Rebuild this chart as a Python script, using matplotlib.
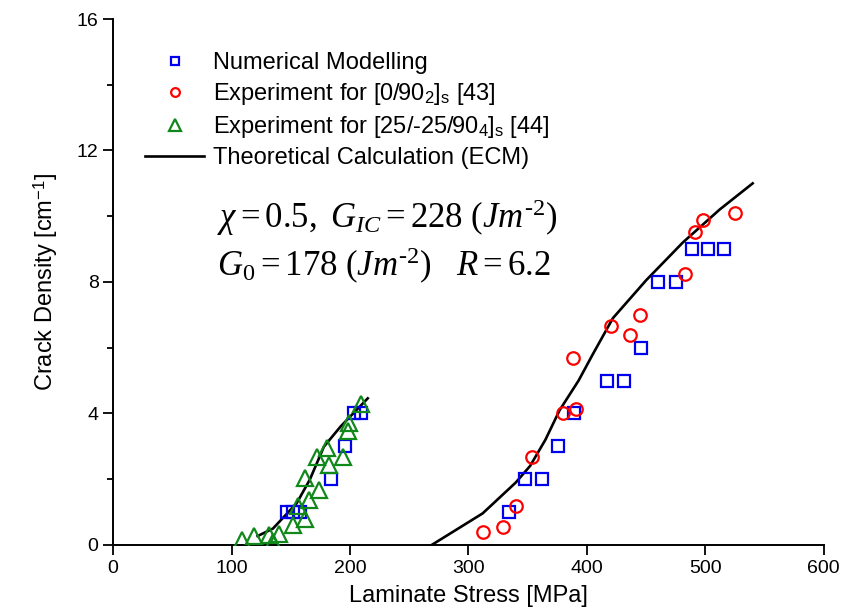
import matplotlib
matplotlib.use("Agg")
import matplotlib.pyplot as plt
from matplotlib.ticker import MultipleLocator

plt.rcParams["font.family"] = "Liberation Sans"
plt.rcParams["mathtext.fontset"] = "custom"
plt.rcParams["mathtext.rm"] = "Liberation Serif"
plt.rcParams["mathtext.it"] = "Liberation Serif:italic"
plt.rcParams["mathtext.sf"] = "Liberation Sans"

# numerical modelling (squares)
num_x = [147, 152, 158, 184, 196, 203, 209,
         334, 348, 362, 376, 389, 417, 431, 446, 460, 475, 489, 502, 516]
num_y = [1, 1, 1, 2, 3, 4, 4,
         1, 2, 2, 3, 4, 5, 5, 6, 8, 8, 9, 9, 9]

# experiment [0/90_2]_s (circles)
exp1_x = [312, 329, 340, 354, 380, 388, 391, 420, 436, 445, 483, 491, 498, 525]
exp1_y = [0.4, 0.54, 1.2, 2.67, 4.0, 5.7, 4.15, 6.66, 6.38, 6.99, 8.25, 9.52, 9.88, 10.1]

# experiment [25/-25/90_4]_s (triangles)
exp2_x = [109, 119, 132, 135, 140, 152, 156, 162, 162, 165, 172, 174, 181,
          182, 194, 198, 199, 209]
exp2_y = [0.15, 0.28, 0.3, 0.1, 0.33, 0.6, 1.2, 0.8, 2.03, 1.37, 2.68, 1.67, 2.94,
          2.43, 2.68, 3.47, 3.7, 4.3]

# theoretical calculation (ECM)
ecm1_x = [122, 135, 155, 166, 178, 192, 215]
ecm1_y = [0.27, 0.5, 1.27, 1.98, 2.99, 3.6, 4.46]
ecm2_x = [269, 312, 340, 352, 365, 377, 393, 405, 422, 450, 481, 512, 540]
ecm2_y = [0, 0.96, 1.9, 2.4, 3.2, 4.1, 5.0, 5.8, 6.9, 8.05, 9.2, 10.2, 11.0]

fig = plt.figure(figsize=(8.44, 6.13), dpi=100)
ax = fig.add_axes([0.134, 0.111, 0.842, 0.858])

ax.plot(ecm1_x, ecm1_y, color="black", lw=1.9)
ax.plot(ecm2_x, ecm2_y, color="black", lw=1.9,
        label="Theoretical Calculation (ECM)")

ax.plot(num_x, num_y, ls="none", marker="s", ms=9, mfc="none", mec="#0000ee",
        mew=1.6, label="Numerical Modelling", zorder=3)
ax.plot(exp1_x, exp1_y, ls="none", marker="o", ms=9, mfc="none", mec="#ff0000",
        mew=1.6, label=r"Experiment for [0/90$_{\mathsf{2}}$]$_{\mathsf{s}}$ [43]", zorder=3)
ax.plot(exp2_x, exp2_y, ls="none", marker="^", ms=12, mfc="none", mec="#11881a",
        mew=1.6, label=r"Experiment for [25/-25/90$_{\mathsf{4}}$]$_{\mathsf{s}}$ [44]", zorder=3)

ax.set_xlim(0, 600)
ax.set_ylim(0, 16)
ax.xaxis.set_major_locator(MultipleLocator(100))
ax.yaxis.set_major_locator(MultipleLocator(4))
ax.yaxis.set_minor_locator(MultipleLocator(2))
ax.tick_params(direction="out", labelsize=14, width=1.3)
ax.tick_params(which="major", length=7)
ax.tick_params(which="minor", length=4, width=1.3)
for side in ("top", "right"):
    ax.spines[side].set_visible(False)
for side in ("left", "bottom"):
    ax.spines[side].set_linewidth(1.4)

ax.set_xlabel("Laminate Stress [MPa]", fontsize=17, labelpad=6)
ax.set_ylabel(r"Crack Density [cm$^{\mathsf{-1}}$]", fontsize=17, labelpad=12)

handles, labels = ax.get_legend_handles_labels()
order = [1, 2, 3, 0]
ax.legend([handles[i] for i in order], [labels[i] for i in order],
          loc="upper left", bbox_to_anchor=(0.032, 0.955), frameon=False,
          fontsize=17, handlelength=2.5, handletextpad=0.35, labelspacing=0.3,
          markerscale=0.7, borderaxespad=0)

ax.text(88, 9.95, r"$\chi = \mathrm{0.5},\ G_{IC} = \mathit{228}\ (Jm^{\text{-}\mathit{2}})$",
        fontsize=25, va="center", ha="left")
ax.text(88, 8.5, r"$G_{\mathit{0}} = \mathit{178}\ (Jm^{\text{-}\mathit{2}})\quad R = \mathit{6.2}$",
        fontsize=25, va="center", ha="left")

fig.savefig("out.png", dpi=100)
